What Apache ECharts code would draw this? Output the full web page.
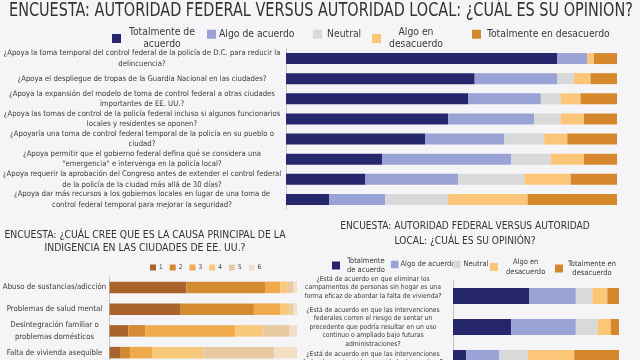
<!DOCTYPE html>
<html><head><meta charset="utf-8">
<script src="https://cdn.jsdelivr.net/npm/echarts@6/dist/echarts.min.js"></script>
<style>html,body{margin:0;padding:0;background:#f5f5f7}#c{width:640px;height:360px}</style>
</head><body><div id="c"></div>
<script>
const FONT = "'DejaVu Sans Condensed','Liberation Sans Narrow',sans-serif";
const TXT = '#3a3a3a';

// ---------- data ----------
const agreeLevels = ['Totalmente de acuerdo', 'Algo de acuerdo', 'Neutral', 'Algo en desacuerdo', 'Totalmente en desacuerdo'];
const agreeColors = ['#25266b', '#9aa3d6', '#d9d9d9', '#fbc677', '#d5872c'];

const topQuestions = [
  '¿Apoya la toma temporal del control federal de la policía de D.C. para reducir la\ndelincuencia?',
  '¿Apoya el despliegue de tropas de la Guardia Nacional en las ciudades?',
  '¿Apoya la expansión del modelo de toma de control federal a otras ciudades\nimportantes de EE. UU.?',
  '¿Apoya las tomas de control de la policía federal incluso si algunos funcionarios\nlocales y residentes se oponen?',
  '¿Apoyaría una toma de control federal temporal de la policía en su pueblo o\nciudad?',
  '¿Apoya permitir que el gobierno federal defina qué se considera una\n"emergencia" e intervenga en la policía local?',
  '¿Apoya requerir la aprobación del Congreso antes de extender el control federal\nde la policía de la ciudad más allá de 30 días?',
  '¿Apoya dar más recursos a los gobiernos locales en lugar de una toma de\ncontrol federal temporal para mejorar la seguridad?'
];
const topTotalAgree    = [82, 57, 55, 49, 42, 29, 24, 13];
const topSomewhatAgree = [9, 25, 22, 26, 24, 39, 28, 17];
const topNeutral       = [0, 5, 6, 8, 12, 12, 20, 19];
const topSomewhatDis   = [2, 5, 6, 7, 7, 10, 14, 24];
const topTotalDis      = [7, 8, 11, 10, 15, 10, 14, 27];

const causeCategories = ['Abuso de sustancias/adicción', 'Problemas de salud mental', 'Desintegración familiar o\nproblemas domésticos', 'Falta de vivienda asequible'];
const causeRanks = ['1', '2', '3', '4', '5', '6'];
const causeColors = ['#a8642a', '#d38a31', '#eeaa4b', '#f9c97b', '#e8caa2', '#f2dfc5'];
const causeRank1 = [41, 38, 10, 6];
const causeRank2 = [42, 39, 9, 5];
const causeRank3 = [8, 14, 48, 12];
const causeRank4 = [4, 5, 15, 27];
const causeRank5 = [3, 2, 14, 38];
const causeRank6 = [2, 2, 4, 12];

const brQuestions = [
  '¿Está de acuerdo en que eliminar los\ncampamentos de personas sin hogar es una\nforma eficaz de abordar la falta de vivienda?',
  '¿Está de acuerdo en que las intervenciones\nfederales corren el riesgo de sentar un\nprecedente que podría resultar en un uso\ncontinuo o ampliado bajo futuras\nadministraciones?',
  '¿Está de acuerdo en que las intervenciones\nfederales mejoran la seguridad a largo plazo?'
];
const brTotalAgree    = [46, 35, 8];
const brSomewhatAgree = [28, 39, 20];
const brNeutral       = [10, 13, 17];
const brSomewhatDis   = [9, 8, 28];
const brTotalDis      = [7, 5, 27];

const topSeriesData = [topTotalAgree, topSomewhatAgree, topNeutral, topSomewhatDis, topTotalDis];
const causeSeriesData = [causeRank1, causeRank2, causeRank3, causeRank4, causeRank5, causeRank6];
const brSeriesData = [brTotalAgree, brSomewhatAgree, brNeutral, brSomewhatDis, brTotalDis];

// ---------- options ----------
const series = [];
agreeLevels.forEach((n, i) => series.push({
  type: 'bar', name: n, stack: 'top', xAxisIndex: 0, yAxisIndex: 0, barWidth: 11,
  itemStyle: { color: agreeColors[i] }, data: topSeriesData[i], silent: true
}));
causeRanks.forEach((n, i) => series.push({
  type: 'bar', name: n, stack: 'cause', xAxisIndex: 1, yAxisIndex: 1, barWidth: 11.5,
  itemStyle: { color: causeColors[i] }, data: causeSeriesData[i], silent: true
}));
agreeLevels.forEach((n, i) => series.push({
  type: 'bar', name: n, stack: 'br', xAxisIndex: 2, yAxisIndex: 2, barWidth: 16,
  itemStyle: { color: agreeColors[i] }, data: brSeriesData[i], silent: true
}));

function legendItem(name, left, top, lines, size, lh, icon, padLeft) {
  const base = {
    data: [name], left: left, top: top, icon: 'rect', itemWidth: icon, itemHeight: icon,
    padding: 0, selectedMode: false,
    textStyle: { fontSize: size, lineHeight: lh, fontFamily: FONT, color: TXT, padding: [0, 0, 0, padLeft] }
  };
  if (lines) {
    base.formatter = () => lines.map(l => '{c|' + l + '}').join('\n');
    base.textStyle.rich = { c: { fontSize: size, lineHeight: lh, fontFamily: FONT, color: TXT, align: 'center' } };
  }
  return base;
}

const legends = [
  legendItem(agreeLevels[0], 112, 26, ['Totalmente de', 'acuerdo'], 10.3, 12.5, 9, 3),
  legendItem(agreeLevels[1], 207, 28, null, 10.3, 12.5, 9, -2),
  legendItem(agreeLevels[2], 313, 28, null, 10.3, 12.5, 9, 0),
  legendItem(agreeLevels[3], 372, 26, ['Algo en', 'desacuerdo'], 10.3, 12.5, 9, 3),
  legendItem(agreeLevels[4], 472, 28, null, 10.3, 12.5, 9, 1),
  {
    data: causeRanks, left: 150, top: 264, icon: 'rect', itemWidth: 6, itemHeight: 6, itemGap: 7,
    padding: 0, selectedMode: false,
    textStyle: { fontSize: 6.5, fontFamily: FONT, color: TXT, padding: [0, 0, 0, -2] }
  },
  legendItem(agreeLevels[0], 332, 256.5, ['Totalmente', 'de acuerdo'], 7.5, 9, 8, 2),
  legendItem(agreeLevels[1], 391, 260, null, 7.5, 9, 7.5, -3),
  legendItem(agreeLevels[2], 453, 260, null, 7.5, 9, 7.5, -2),
  legendItem(agreeLevels[3], 490, 257.5, ['Algo en', 'desacuerdo'], 7.5, 9.5, 8, 3),
  legendItem(agreeLevels[4], 555, 259, ['Totalmente en', 'desacuerdo'], 7.5, 9.5, 8, 0)
];

function valAxis(idx) {
  return { type: 'value', gridIndex: idx, min: 0, max: 100, show: false };
}
function catAxis(idx, data, size, lh, margin, fmt) {
  return {
    type: 'category', gridIndex: idx, data: data, inverse: true,
    axisLine: { show: true, lineStyle: { color: '#c4c4c4', width: 1 } },
    axisTick: { show: false },
    axisLabel: { interval: 0, align: 'center', margin: margin, fontSize: size, lineHeight: lh, fontFamily: FONT, color: TXT, formatter: fmt }
  };
}

const option = {
  backgroundColor: '#f5f5f7',
  animation: false,
  graphic: [
    { type: 'text', x: 9, y: 2, scaleX: 0.845, style: { text: 'ENCUESTA: AUTORIDAD FEDERAL VERSUS AUTORIDAD LOCAL: ¿CUÁL ES SU OPINIÓN?', align: 'left', fontSize: 19, fontFamily: FONT, fill: '#333' } },
    { type: 'text', x: 145, y: 228.5, scaleX: 0.94, style: { text: 'ENCUESTA: ¿CUÁL CREE QUE ES LA CAUSA PRINCIPAL DE LA\nINDIGENCIA EN LAS CIUDADES DE EE. UU.?', align: 'center', fontSize: 11, lineHeight: 13, fontFamily: FONT, fill: '#333' } },
    { type: 'text', x: 465, y: 219, scaleX: 0.92, style: { text: 'ENCUESTA: AUTORIDAD FEDERAL VERSUS AUTORIDAD\nLOCAL: ¿CUÁL ES SU OPINIÓN?', align: 'center', fontSize: 11, lineHeight: 14.5, fontFamily: FONT, fill: '#333' } }
  ],
  legend: legends,
  grid: [
    { left: 286, width: 331, top: 48.5, height: 161, outerBoundsMode: 'none', containLabel: false },
    { left: 109.5, width: 187.5, top: 276.5, height: 87, outerBoundsMode: 'none', containLabel: false },
    { left: 453, width: 166, top: 280.5, height: 93, outerBoundsMode: 'none', containLabel: false }
  ],
  xAxis: [valAxis(0), valAxis(1), valAxis(2)],
  yAxis: [
    catAxis(0, topQuestions, 7.7, 10.6, 144),
    catAxis(1, causeCategories, 7.8, 12.5, 55),
    catAxis(2, brQuestions, 6.8, 8.4, 80, (v, i) => i === 0 ? v + '\n \n ' : v)
  ],
  series: series
};

const chart = echarts.init(document.getElementById('c'));
chart.setOption(option);
</script>
</body></html>
